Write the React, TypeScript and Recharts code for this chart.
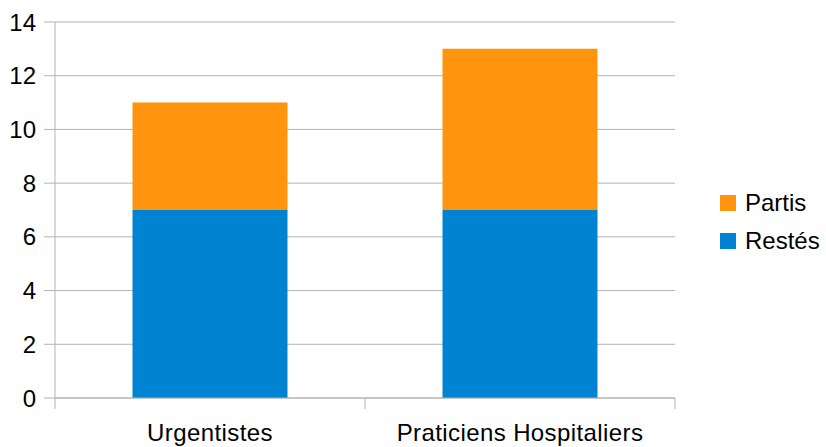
import { BarChart, Bar, XAxis, YAxis, CartesianGrid } from 'recharts';

const categories = ['Urgentistes', 'Praticiens Hospitaliers'];
const restes = [7, 7];
const partis = [4, 6];
const yTicks = [0, 2, 4, 6, 8, 10, 12, 14];

const data = categories.map((name, i) => ({ name, restes: restes[i], partis: partis[i] }));

const GRID = '#b3b3b3';
const FONT = '"Liberation Sans", Arial, sans-serif';

// tick label at the band centre, tick marks at the band edges
function CategoryTick(props: any) {
    const { x, y, payload, index, visibleTicksCount } = props;
    const half = payload.offset ?? 0;
    const top = y - 8;
    return (
        <g>
            <line x1={x - half} x2={x - half} y1={top} y2={top + 11} stroke={GRID} />
            {index === visibleTicksCount - 1 && (
                <line x1={x + half} x2={x + half} y1={top} y2={top + 11} stroke={GRID} />
            )}
            <text x={x} y={y + 35} textAnchor="middle" fontSize={24} letterSpacing={0.4} fill="#000" fontFamily={FONT}>
                {payload.value}
            </text>
        </g>
    );
}

function LegendBox() {
    const items = [
        { label: 'Partis', color: '#ff950e' },
        { label: 'Restés', color: '#0084d1' },
    ];
    return (
        <div style={{ position: 'absolute', left: 720, top: 184, fontFamily: FONT, fontSize: 24, color: '#000' }}>
            {items.map((it) => (
                <div key={it.label} style={{ display: 'flex', alignItems: 'center', height: 38 }}>
                    <span style={{ width: 16, height: 16, background: it.color, marginRight: 9, display: 'inline-block' }} />
                    <span>{it.label}</span>
                </div>
            ))}
        </div>
    );
}

export default function App() {
    return (
        <div style={{ position: 'absolute', left: 0, top: 0, width: 826, height: 447, background: '#fff' }}>
            <BarChart
                width={826}
                height={447}
                data={data}
                barCategoryGap="25%"
                margin={{ top: 22, right: 151, left: 0, bottom: 0 }}
            >
                <CartesianGrid vertical={false} stroke={GRID} />
                <XAxis
                    dataKey="name"
                    axisLine={{ stroke: GRID }}
                    tickLine={false}
                    interval={0}
                    tick={<CategoryTick />}
                    height={49}
                />
                <YAxis
                    width={55}
                    domain={[0, 14]}
                    ticks={yTicks}
                    interval={0}
                    axisLine={{ stroke: GRID }}
                    tickLine={{ stroke: GRID }}
                    tickSize={11}
                    tickMargin={8}
                    tick={{ fontSize: 24, fill: '#000', fontFamily: FONT }}
                />
                <YAxis
                    yAxisId="right"
                    orientation="right"
                    width={0}
                    tick={false}
                    tickLine={false}
                    axisLine={{ stroke: GRID }}
                />
                <Bar dataKey="restes" name="Restés" stackId="a" fill="#0084d1" isAnimationActive={false} />
                <Bar dataKey="partis" name="Partis" stackId="a" fill="#ff950e" isAnimationActive={false} />
            </BarChart>
            <LegendBox />
        </div>
    );
}
